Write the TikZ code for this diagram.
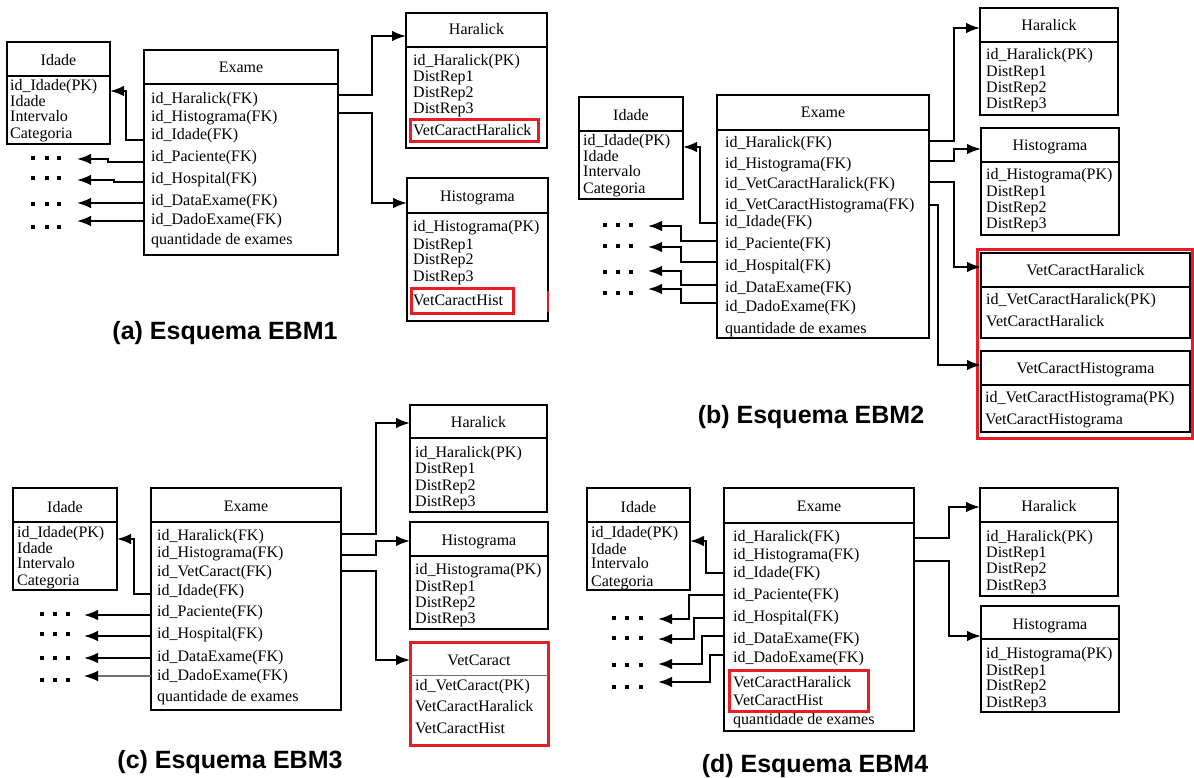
\documentclass[tikz,border=0pt]{standalone}
\usepackage{fontspec}
\setmainfont{Liberation Serif}
\newfontfamily\capfont{Liberation Sans}
\usetikzlibrary{arrows.meta}
\definecolor{markred}{RGB}{229,30,40}
\definecolor{inkgray}{RGB}{110,110,110}

\tikzset{
  tblbox/.style={draw=black, line width=1.8pt, inner sep=0pt, outer sep=0pt},
  divline/.style={line width=1.8pt},
  ttl/.style={anchor=base, inner sep=0pt, font=\fontsize{16}{19}\selectfont},
  fld/.style={anchor=base west, inner sep=0pt, font=\fontsize{16}{19}\selectfont},
  conn/.style={line width=1.8pt, -{Latex[length=14pt,width=10.5pt]}},
  redframe/.style={draw=markred, line width=3pt},
  caption/.style={inner sep=0pt, font=\capfont\bfseries\fontsize{25}{30}\selectfont},
}

% table: name, x1, y1, x2, y2, divider y, title, title y
\newcommand{\dbtable}[8]{%
  \node[tblbox, minimum width={(#4)-(#2)}, minimum height={(#5)-(#3)}]
    (#1) at ({((#2)+(#4))/2},{((#3)+(#5))/2}) {};
  \draw[divline] (#1.west |- 0,#6) -- (#1.east |- 0,#6);
  \node[ttl] (#1-title) at ({((#2)+(#4))/2},{(#8)+5}) {#7};
}
% attribute rows: table name, left x, list of y/text
\newcommand{\attrs}[3]{%
  \foreach \yy/\ftxt [count=\i] in {#3} {
    \node[fld] (#1-f\i) at (#2,{\yy+5}) {\ftxt};
  }
}
% three square dots standing for omitted tables
\newcommand{\dotrow}[4]{%
  \foreach \dx in {#1,#2,#3} {
    \fill (\dx-2.2,#4-2.2) rectangle ++(4.4,4.4);
  }
}

\begin{document}
\begin{tikzpicture}[x=1pt,y=-1pt]
\fill[white] (0,0) rectangle (1194,778);
\useasboundingbox (0,0) rectangle (1194,778);

%% ---------------- (a) EBM1 ----------------
\dbtable{idA}{7}{42}{110}{144}{76}{Idade}{61}
\attrs{idA}{10}{86/id\_Idade(PK), 102/Idade, 117/Intervalo, 134/Categoria}
\dbtable{exA}{144}{50}{338}{255}{84}{Exame}{68}
\attrs{exA}{151}{99/id\_Haralick(FK), 117/id\_Histograma(FK), 135/id\_Idade(FK), 157/id\_Paciente(FK), 179/id\_Hospital(FK), 201/id\_DataExame(FK), 220/id\_DadoExame(FK), 239/quantidade de exames}
\dbtable{hrA}{406}{13}{547}{148}{47}{Haralick}{30}
\attrs{hrA}{413}{61/id\_Haralick(PK), 77/DistRep1, 93/DistRep2, 109/DistRep3, 131/VetCaractHaralick}
\dbtable{hsA}{407}{178}{548}{321}{213}{Histograma}{197}
\attrs{hsA}{413}{227/id\_Histograma(PK), 244/DistRep1, 260/DistRep2, 276/DistRep3, 300/VetCaractHist}
\draw[redframe] (410,120) rectangle (538,142);
\draw[redframe] (411,288) rectangle (513,313);
\draw[markred, line width=1.2pt] (548,291) -- (548,312);

\coordinate (tA1) at (77,159);
\coordinate (tA2) at (77,180);
\coordinate (tA3) at (77,203);
\coordinate (tA4) at (77,221);
\draw[conn] (exA.west |- 0,140) -- (126,140) -- (126,91) -- (idA.east |- 0,91);
\draw[conn] (exA.west |- 0,162) -- (108,162) -- (108,159) -- (tA1);
\draw[conn] (exA.west |- 0,182) -- (114,182) -- (114,180) -- (tA2);
\draw[conn] (exA.west |- 0,203) -- (tA3);
\draw[conn] (exA.west |- 0,221) -- (tA4);
\dotrow{33}{47}{59}{158}
\dotrow{33}{47}{59}{178}
\dotrow{33}{47}{59}{204}
\dotrow{33}{47}{59}{227}
\draw[conn] (exA.east |- 0,95) -- (372,95) -- (372,36) -- (hrA.west |- 0,36);
\draw[conn] (exA.east |- 0,113) -- (372,113) -- (372,203) -- (hsA.west |- 0,203);
\node[caption] (capA) at (225,333) {(a) Esquema EBM1};

%% ---------------- (b) EBM2 ----------------
\dbtable{idB}{579}{97}{683}{199}{131}{Idade}{116}
\attrs{idB}{583}{141/id\_Idade(PK), 157/Idade, 172/Intervalo, 189/Categoria}
\dbtable{exB}{717}{95}{929}{338}{130}{Exame}{113}
\attrs{exB}{725}{143/id\_Haralick(FK), 164/id\_Histograma(FK), 184/id\_VetCaractHaralick(FK), 205/id\_VetCaractHistograma(FK), 221/id\_Idade(FK), 243/id\_Paciente(FK), 265/id\_Hospital(FK), 287/id\_DataExame(FK), 306/id\_DadoExame(FK), 328/quantidade de exames}
\dbtable{hrB}{980}{8}{1118}{115}{42}{Haralick}{26}
\attrs{hrB}{986}{55/id\_Haralick(PK), 72/DistRep1, 88/DistRep2, 104/DistRep3}
\dbtable{hsB}{981}{128}{1119}{235}{162}{Histograma}{146}
\attrs{hsB}{986}{175/id\_Histograma(PK), 192/DistRep1, 208/DistRep2, 224/DistRep3}
\dbtable{vhB}{981}{253}{1190}{338}{287}{VetCaractHaralick}{271}
\attrs{vhB}{986}{299/id\_VetCaractHaralick(PK), 321/VetCaractHaralick}
\dbtable{vsB}{981}{351}{1190}{432}{385}{VetCaractHistograma}{368}
\attrs{vsB}{985}{397/id\_VetCaractHistograma(PK), 419/VetCaractHistograma}
\draw[redframe] (977,249) rectangle (1192.5,438);

\coordinate (tB1) at (648,226);
\coordinate (tB2) at (648,247);
\coordinate (tB3) at (648,271);
\coordinate (tB4) at (648,289);
\draw[conn] (exB.west |- 0,223) -- (700,223) -- (700,147) -- (idB.east |- 0,147);
\draw[conn] (exB.west |- 0,241) -- (681,241) -- (681,226) -- (tB1);
\draw[conn] (exB.west |- 0,262) -- (681,262) -- (681,247) -- (tB2);
\draw[conn] (exB.west |- 0,285) -- (681,285) -- (681,271) -- (tB3);
\draw[conn] (exB.west |- 0,303) -- (681,303) -- (681,289) -- (tB4);
\dotrow{605}{618}{631}{225}
\dotrow{605}{618}{631}{246}
\dotrow{605}{618}{631}{272}
\dotrow{605}{618}{631}{293}
\draw[conn] (exB.east |- 0,141) -- (954,141) -- (954,28) -- (hrB.west |- 0,28);
\draw[conn] (exB.east |- 0,161) -- (954,161) -- (954,149) -- (hsB.west |- 0,149);
\draw[conn] (exB.east |- 0,182) -- (954,182) -- (954,267) -- (vhB.west |- 0,267);
\draw[conn] (exB.east |- 0,205) -- (938,205) -- (938,365) -- (vsB.west |- 0,365);
\node[caption] (capB) at (811,417) {(b) Esquema EBM2};

%% ---------------- (c) EBM3 ----------------
\dbtable{idC}{13}{488}{117}{590}{522}{Idade}{507}
\attrs{idC}{17}{532/id\_Idade(PK), 548/Idade, 563/Intervalo, 580/Categoria}
\dbtable{exC}{151}{488}{341}{710}{522}{Exame}{506}
\attrs{exC}{157}{535/id\_Haralick(FK), 552/id\_Histograma(FK), 571/id\_VetCaract(FK), 590/id\_Idade(FK), 611/id\_Paciente(FK), 633/id\_Hospital(FK), 656/id\_DataExame(FK), 675/id\_DadoExame(FK), 696/quantidade de exames}
\dbtable{hrC}{410}{405}{547}{512}{438}{Haralick}{422}
\attrs{hrC}{415}{452/id\_Haralick(PK), 468/DistRep1, 485/DistRep2, 501/DistRep3}
\dbtable{hsC}{410}{522}{548}{629}{556}{Histograma}{540}
\attrs{hsC}{415}{569/id\_Histograma(PK), 586/DistRep1, 602/DistRep2, 618/DistRep3}
% feature-vector table, outlined in red
\node[redframe, inner sep=0pt, outer sep=0pt, minimum width=138pt, minimum height=103pt]
  (vcC) at (479,693.5) {};
\draw[inkgray, line width=1pt] (vcC.west |- 0,675) -- (vcC.east |- 0,675);
\node[ttl] (vcC-title) at (479,665) {VetCaract};
\attrs{vcC}{415}{685/id\_VetCaract(PK), 706/VetCaractHaralick, 728/VetCaractHist}

\coordinate (tC1) at (84,615);
\coordinate (tC2) at (84,636);
\coordinate (tC3) at (84,658);
\coordinate (tC4) at (84,676);
\draw[conn] (exC.west |- 0,594) -- (134,594) -- (134,539) -- (idC.east |- 0,539);
\draw[conn] (exC.west |- 0,615) -- (tC1);
\draw[conn] (exC.west |- 0,636) -- (tC2);
\draw[conn] (exC.west |- 0,658) -- (tC3);
\draw[line width=1.1pt, draw=inkgray, -{Latex[length=14pt,width=10.5pt,color=black]}] (exC.west |- 0,676) -- (tC4);
\dotrow{42}{55}{68}{614}
\dotrow{42}{55}{68}{634}
\dotrow{42}{55}{68}{658}
\dotrow{42}{55}{68}{680}
\draw[conn] (exC.east |- 0,534) -- (376,534) -- (376,423) -- (hrC.west |- 0,423);
\draw[conn] (exC.east |- 0,555) -- (376,555) -- (376,541) -- (hsC.west |- 0,541);
\draw[conn] (exC.east |- 0,571) -- (376,571) -- (376,660) -- (vcC.west |- 0,660);
\node[caption] (capC) at (230,762) {(c) Esquema EBM3};

%% ---------------- (d) EBM4 ----------------
\dbtable{idD}{587}{488}{690}{590}{522}{Idade}{507}
\attrs{idD}{591}{532/id\_Idade(PK), 549/Idade, 563/Intervalo, 581/Categoria}
\dbtable{exD}{724}{488}{914}{731}{523}{Exame}{506}
\attrs{exD}{733}{536/id\_Haralick(FK), 554/id\_Histograma(FK), 572/id\_Idade(FK), 594/id\_Paciente(FK), 616/id\_Hospital(FK), 638/id\_DataExame(FK), 657/id\_DadoExame(FK), 682/VetCaractHaralick, 700/VetCaractHist, 719/quantidade de exames}
\draw[redframe] (729,670) rectangle (868,711);
\dbtable{hrD}{980}{488}{1118}{596}{522}{Haralick}{506}
\attrs{hrD}{986}{536/id\_Haralick(PK), 552/DistRep1, 568/DistRep2, 585/DistRep3}
\dbtable{hsD}{981}{606}{1119}{712}{639}{Histograma}{624}
\attrs{hsD}{986}{653/id\_Histograma(PK), 670/DistRep1, 685/DistRep2, 702/DistRep3}

\coordinate (tD1) at (658,619);
\coordinate (tD2) at (658,639);
\coordinate (tD3) at (658,664);
\coordinate (tD4) at (658,682);
\draw[conn] (exD.west |- 0,573) -- (706,573) -- (706,541) -- (idD.east |- 0,541);
\draw[conn] (exD.west |- 0,595) -- (689,595) -- (689,619) -- (tD1);
\draw[conn] (exD.west |- 0,618) -- (694,618) -- (694,639) -- (tD2);
\draw[conn] (exD.west |- 0,636) -- (702,636) -- (702,664) -- (tD3);
\draw[conn] (exD.west |- 0,655) -- (710,655) -- (710,682) -- (tD4);
\dotrow{614}{627}{641}{618}
\dotrow{614}{627}{641}{638}
\dotrow{614}{627}{641}{665}
\dotrow{614}{627}{641}{687}
\draw[conn] (exD.east |- 0,538) -- (949,538) -- (949,507) -- (hrD.west |- 0,507);
\draw[conn] (exD.east |- 0,561) -- (949,561) -- (949,636) -- (hsD.west |- 0,636);
\node[caption] (capD) at (815,766) {(d) Esquema EBM4};
\end{tikzpicture}
\end{document}
